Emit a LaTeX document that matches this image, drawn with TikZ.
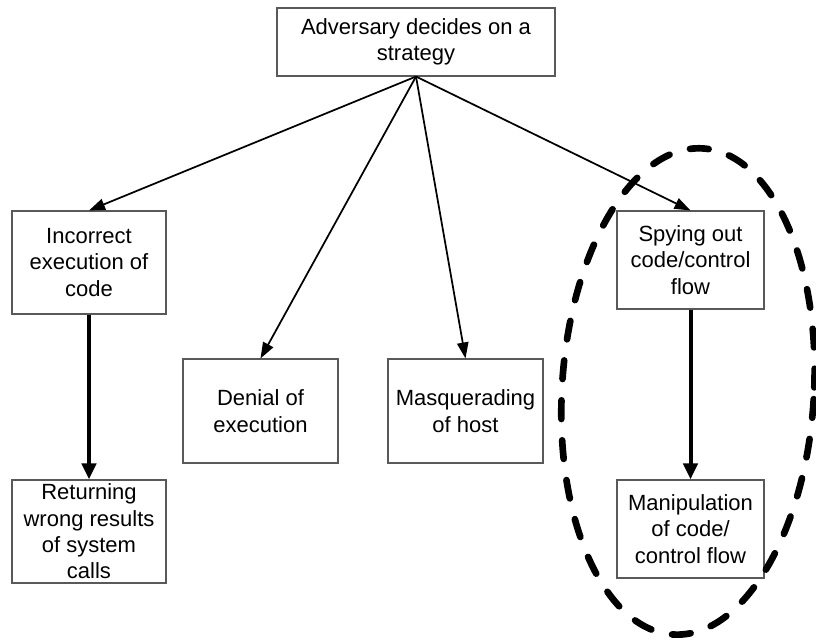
\documentclass[tikz,border=0pt]{standalone}
\usepackage{fontspec}
\setmainfont{Liberation Sans}
\usetikzlibrary{arrows.meta}
\begin{document}
\begin{tikzpicture}[x=0.75pt,y=-0.75pt,
  box/.style={draw=black!65,line width=0.8pt,align=center,inner sep=0pt,
    font=\fontsize{16.5pt}{19.8pt}\selectfont},
  thin/.style={line width=1.3pt,-{Triangle[length=12pt,width=8.5pt]}},
  thick/.style={line width=3pt,-{Triangle[length=12pt,width=10.5pt]}},
  ring/.style={line width=5pt,line cap=round,dash pattern=on 14pt off 16pt}]
\useasboundingbox (0,0) rectangle (816,639);
\node[box,minimum width=278*0.75pt,minimum height=68*0.75pt] (top) at (416,42) {Adversary decides on a\\strategy};
\node[box,minimum width=154*0.75pt,minimum height=103*0.75pt] (inc) at (89,262.5) {Incorrect\\execution of\\code};
\node[box,minimum width=154*0.75pt,minimum height=103*0.75pt] (ret) at (89,531.5) {Returning\\wrong results\\of system\\calls};
\node[box,minimum width=155*0.75pt,minimum height=104*0.75pt] (den) at (260.5,411) {Denial of\\execution};
\node[box,minimum width=155*0.75pt,minimum height=104*0.75pt] (mas) at (465.5,411) {Masquerading\\of host};
\node[box,minimum width=147*0.75pt,minimum height=98*0.75pt] (spy) at (690.5,260) {Spying out\\code/control\\flow};
\node[box,minimum width=147*0.75pt,minimum height=98*0.75pt] (man) at (690.5,529) {Manipulation\\of code/\\control flow};
\draw[thin] (top.south) -- (inc.north);
\draw[thin] (top.south) -- (den.north);
\draw[thin] (top.south) -- (mas.north);
\draw[thin] (top.south) -- (spy.north);
\draw[thick] (inc.south) -- (ret.north);
\draw[thick] (spy.south) -- (man.north);
\coordinate (c) at (688,391.5);
\draw[ring,rotate around={-3.5:(c)}] (c) ellipse [x radius=126, y radius=243.5];
\end{tikzpicture}
\end{document}
